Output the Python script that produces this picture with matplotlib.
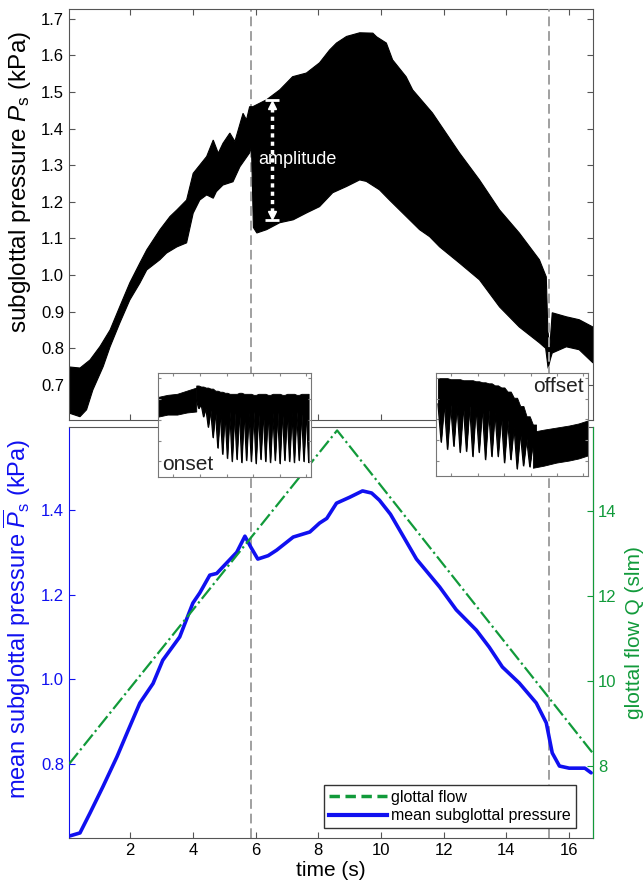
import numpy as np
import matplotlib
matplotlib.use('Agg')
import matplotlib.pyplot as plt
from matplotlib.lines import Line2D

plt.rcParams['font.family'] = ['Liberation Sans', 'DejaVu Sans']
plt.rcParams['mathtext.fontset'] = 'custom'
plt.rcParams['mathtext.rm'] = 'Liberation Sans'
plt.rcParams['mathtext.it'] = 'Liberation Sans:italic'

# top panel: envelope of the raw subglottal pressure signal (kPa)
upper_t = [0.05, 0.4, 0.72, 1.04, 1.36, 1.67, 1.99, 2.31, 2.53, 2.95, 3.27, 3.49, 3.80, 4.01,
           4.44, 4.65, 4.81, 4.96, 5.18, 5.34, 5.60, 5.71, 5.81, 5.91, 6.35, 6.77, 7.18, 7.62,
           8.04, 8.36, 8.58, 8.9, 9.32, 9.74, 9.86, 10.17, 10.37, 10.8, 11.01, 11.64, 12.5,
           13.14, 13.78, 14.41, 15.05, 15.27, 15.32, 15.38, 15.46, 15.91, 16.32, 16.76]
upper_p = [0.749, 0.746, 0.768, 0.805, 0.85, 0.914, 0.979, 1.033, 1.069, 1.124, 1.160, 1.178,
           1.205, 1.278, 1.324, 1.369, 1.333, 1.360, 1.388, 1.365, 1.442, 1.424, 1.46, 1.46,
           1.479, 1.506, 1.542, 1.552, 1.58, 1.615, 1.634, 1.652, 1.662, 1.661, 1.651, 1.634,
           1.588, 1.542, 1.506, 1.443, 1.334, 1.26, 1.178, 1.115, 1.042, 0.995, 0.85, 0.80,
           0.897, 0.886, 0.878, 0.858]
lower_t = [0.05, 0.4, 0.61, 0.81, 1.14, 1.36, 1.67, 1.99, 2.31, 2.53, 2.95, 3.16, 3.49, 3.80,
           4.01, 4.22, 4.44, 4.65, 4.75, 4.96, 5.28, 5.50, 5.81, 5.87, 5.93, 6.04, 6.35, 6.77,
           7.2, 7.63, 8.04, 8.46, 8.9, 9.32, 9.53, 9.95, 10.27, 10.59, 10.91, 11.23, 11.55,
           11.87, 12.5, 13.14, 13.78, 14.41, 15.05, 15.25, 15.33, 15.40, 15.46, 15.91, 16.32,
           16.76]
lower_p = [0.623, 0.613, 0.632, 0.686, 0.750, 0.804, 0.869, 0.932, 0.978, 1.014, 1.042, 1.060,
           1.077, 1.088, 1.169, 1.205, 1.219, 1.210, 1.228, 1.246, 1.255, 1.296, 1.334, 1.35,
           1.13, 1.115, 1.124, 1.143, 1.151, 1.17, 1.187, 1.225, 1.242, 1.26, 1.256, 1.233,
           1.205, 1.178, 1.151, 1.124, 1.105, 1.077, 1.033, 0.987, 0.913, 0.858, 0.815, 0.80,
           0.745, 0.77, 0.787, 0.804, 0.796, 0.76]

# bottom panel
mean_t = [0.08, 0.4, 0.72, 1.13, 1.58, 1.9, 2.31, 2.73, 3.04, 3.58, 4.0, 4.22, 4.54, 4.76,
          5.08, 5.4, 5.66, 5.85, 6.07, 6.4, 6.67, 7.2, 7.73, 8.04, 8.27, 8.58, 9.0, 9.41,
          9.7, 9.95, 10.3, 10.59, 11.13, 11.87, 12.4, 13.04, 13.45, 13.87, 14.41, 14.95,
          15.27, 15.46, 15.69, 16.0, 16.23, 16.5, 16.7]
mean_p = [0.63, 0.637, 0.684, 0.746, 0.817, 0.873, 0.944, 0.99, 1.045, 1.10, 1.18, 1.204,
          1.246, 1.25, 1.275, 1.30, 1.338, 1.312, 1.284, 1.292, 1.305, 1.336, 1.348, 1.369,
          1.38, 1.416, 1.43, 1.445, 1.44, 1.423, 1.39, 1.353, 1.284, 1.218, 1.164, 1.116,
          1.076, 1.029, 0.991, 0.944, 0.897, 0.826, 0.795, 0.79, 0.79, 0.79, 0.779]
flow_t = [0.05, 8.6, 16.76]
flow_q = [8.05, 15.9, 8.3]

onset_time = 5.85
offset_time = 15.36
time_ticks = [2, 4, 6, 8, 10, 12, 14, 16]

# insets (arbitrary units, 0-100 of the box height)
onset_band_x = [0, 2, 4, 6, 8]
onset_band_hi = [77, 79, 80, 83, 86]
onset_band_lo = [58, 60, 60, 62, 63]
onset_hi = [88, 87, 86, 85, 83, 82, 81, 80, 80, 81, 80, 80, 79, 80, 80, 79, 80, 80, 79, 80, 80, 79, 80, 80]
onset_gap = [74, 70, 66, 64, 63, 62, 62, 63, 62, 63, 62, 62, 63, 62, 62, 63, 62, 62, 63, 62, 62, 63, 62, 62]
onset_lo = [66, 58, 48, 38, 28, 22, 18, 15, 17, 14, 16, 15, 13, 17, 15, 14, 16, 13, 16, 15, 14, 16, 15, 14]

offset_hi = [95, 95, 94, 94, 93, 93, 92, 91, 90, 88, 86, 82, 76, 68, 58, 50]
offset_gap = [70, 70, 69, 69, 68, 68, 67, 66, 64, 62, 58, 54, 48, 42, 36, 32]
offset_lo = [33, 26, 29, 23, 24, 19, 23, 16, 19, 19, 13, 16, 7, 10, 9, 12]
offset_band_x = [15.3, 17, 19, 21, 22.5, 24]
offset_band_hi = [43, 45, 47, 49, 51, 54]
offset_band_lo = [8, 10, 13, 15, 17, 20]

blue = '#1010f0'
green = '#119a3a'
frame = '#555555'
vline_kw = dict(color='#a0a0a0', lw=1.4, linestyle=(0, (5, 2.5)))

fig = plt.figure(figsize=(6.43, 8.86), dpi=100)
ax_top = fig.add_axes([69/643, 1-420/886, 524/643, 411/886])
ax_bot = fig.add_axes([69/643, 1-838/886, 524/643, 411/886])

# ---- top panel
poly_t = np.concatenate([upper_t, lower_t[::-1]])
poly_p = np.concatenate([upper_p, lower_p[::-1]])
ax_top.fill(poly_t, poly_p, color='black', lw=0.8, edgecolor='black', zorder=2)
ax_top.axvline(onset_time, zorder=1, **vline_kw)
ax_top.axvline(offset_time, zorder=3, **vline_kw)
ax_top.set_xlim(0.05, 16.76)
ax_top.set_ylim(0.604, 1.727)
ax_top.set_xticks(time_ticks)
ax_top.set_yticks([0.7, 0.8, 0.9, 1.0, 1.1, 1.2, 1.3, 1.4, 1.5, 1.6, 1.7])
ax_top.tick_params(direction='in', top=True, right=True, labelbottom=False, length=4,
                   color=frame, labelsize=12)
for s in ax_top.spines.values():
    s.set_color(frame)
ax_top.set_ylabel(r'subglottal pressure $P_\mathrm{s}$ (kPa)', fontsize=17.5)
ax_top.yaxis.set_label_coords(-0.068, 0.58)

# amplitude marker
amp_x = 6.51
amp_top, amp_bot = 1.479, 1.151
ax_top.plot([amp_x, amp_x], [amp_bot + 0.02, amp_top - 0.02], color='white', lw=2.5,
            linestyle=(0, (1.2, 1.2)), zorder=4)
ax_top.plot([amp_x], [amp_top - 0.014], marker='^', color='white', ms=6, zorder=4)
ax_top.plot([amp_x], [amp_bot + 0.014], marker='v', color='white', ms=6, zorder=4)
ax_top.plot([amp_x, amp_x], [amp_top, amp_bot], marker='_', ms=10, mew=2, color='white',
            lw=0, zorder=4)
ax_top.text(6.1, 1.315, 'amplitude', color='white', fontsize=13, ha='left', va='center',
            zorder=5)

# ---- bottom panel
ax_bot.plot(mean_t, mean_p, color=blue, lw=2.6, solid_capstyle='round',
            solid_joinstyle='round', zorder=3)
ax_bot.axvline(onset_time, zorder=1, **vline_kw)
ax_bot.axvline(offset_time, zorder=1, **vline_kw)
ax_bot.set_xlim(0.05, 16.76)
ax_bot.set_ylim(0.625, 1.596)
ax_bot.set_xticks(time_ticks)
ax_bot.set_yticks([0.8, 1.0, 1.2, 1.4])
ax_bot.tick_params(axis='x', direction='in', length=4, color=frame, labelsize=12)
ax_bot.tick_params(axis='y', direction='in', length=4, color=blue, labelcolor=blue, labelsize=12)
ax_bot.spines['top'].set_color(frame)
ax_bot.spines['bottom'].set_color(frame)
ax_bot.spines['left'].set_color(blue)
ax_bot.set_xlabel('time (s)', fontsize=15, labelpad=2)
ax_bot.set_ylabel(r'mean subglottal pressure $\overline{P}_\mathrm{s}$ (kPa)', fontsize=17,
                  color=blue)
ax_bot.yaxis.set_label_coords(-0.068, 0.533)

ax_q = ax_bot.twinx()
ax_q.plot(flow_t, flow_q, color=green, lw=1.6, linestyle='-.', zorder=2)
ax_q.set_ylim(6.31, 15.98)
ax_q.set_yticks([8, 10, 12, 14])
ax_q.tick_params(axis='y', direction='in', length=4, color=green, labelcolor=green, labelsize=12)
for side in ['top', 'bottom', 'left']:
    ax_q.spines[side].set_visible(False)
ax_q.spines['right'].set_color(green)
ax_q.set_ylabel('glottal flow Q (slm)', fontsize=15, color=green, labelpad=6)

handles = [Line2D([], [], color=green, lw=2.5, linestyle=(0, (3, 1.6))),
           Line2D([], [], color=blue, lw=3)]
leg = ax_q.legend(handles, ['glottal flow', 'mean subglottal pressure'], loc='lower right',
                  bbox_to_anchor=(0.9676, 0.0243), borderaxespad=0, fontsize=11.5,
                  fancybox=False, framealpha=1, edgecolor='#333333', handlelength=3.6,
                  handletextpad=0.3, borderpad=0.3, labelspacing=0.2)
leg.get_frame().set_linewidth(1.0)


# ---- insets
def draw_inset(rect, xmax, band_x, band_hi, band_lo, cyc_start, hi, gap, lo):
    ax = fig.add_axes(rect, zorder=10)
    ax.set_facecolor('white')
    zx, zy, zh = [], [], []
    for k in range(len(hi)):
        x0 = cyc_start + k
        zx += [x0, x0 + 0.5]
        zy += [gap[k], lo[k]]
        zh += [hi[k], hi[k]]
    ax.fill_between(zx, zy, zh, color='black', lw=0.6, edgecolor='black')
    ax.plot(zx, zy, color='black', lw=0.8)
    ax.fill_between(band_x, band_lo, band_hi, color='black', lw=0.6, edgecolor='black')
    ax.set_xlim(0, xmax)
    ax.set_ylim(0, 100)
    ax.set_xticks(np.linspace(0.1, 0.97, 6) * xmax)
    ax.set_yticks([15, 35, 55, 75, 95])
    ax.tick_params(direction='in', top=True, right=True, length=2.5, color='#888888',
                   labelbottom=False, labelleft=False)
    for s in ax.spines.values():
        s.set_color('#777777')
    return ax


ax_on = draw_inset([158/643, 1-477/886, 153/643, 104/886], 32, onset_band_x,
                   onset_band_hi, onset_band_lo, 8, onset_hi, onset_gap, onset_lo)
ax_on.text(0.03, 0.03, 'onset', transform=ax_on.transAxes, fontsize=15, ha='left',
           va='bottom', color='#222222')

ax_off = draw_inset([436/643, 1-476/886, 152/643, 103/886], 24, offset_band_x,
                    offset_band_hi, offset_band_lo, 0.3, offset_hi, offset_gap, offset_lo)
ax_off.text(0.97, 0.96, 'offset', transform=ax_off.transAxes, fontsize=15, ha='right',
            va='top', color='#222222')

fig.savefig('out.png', dpi=100)
